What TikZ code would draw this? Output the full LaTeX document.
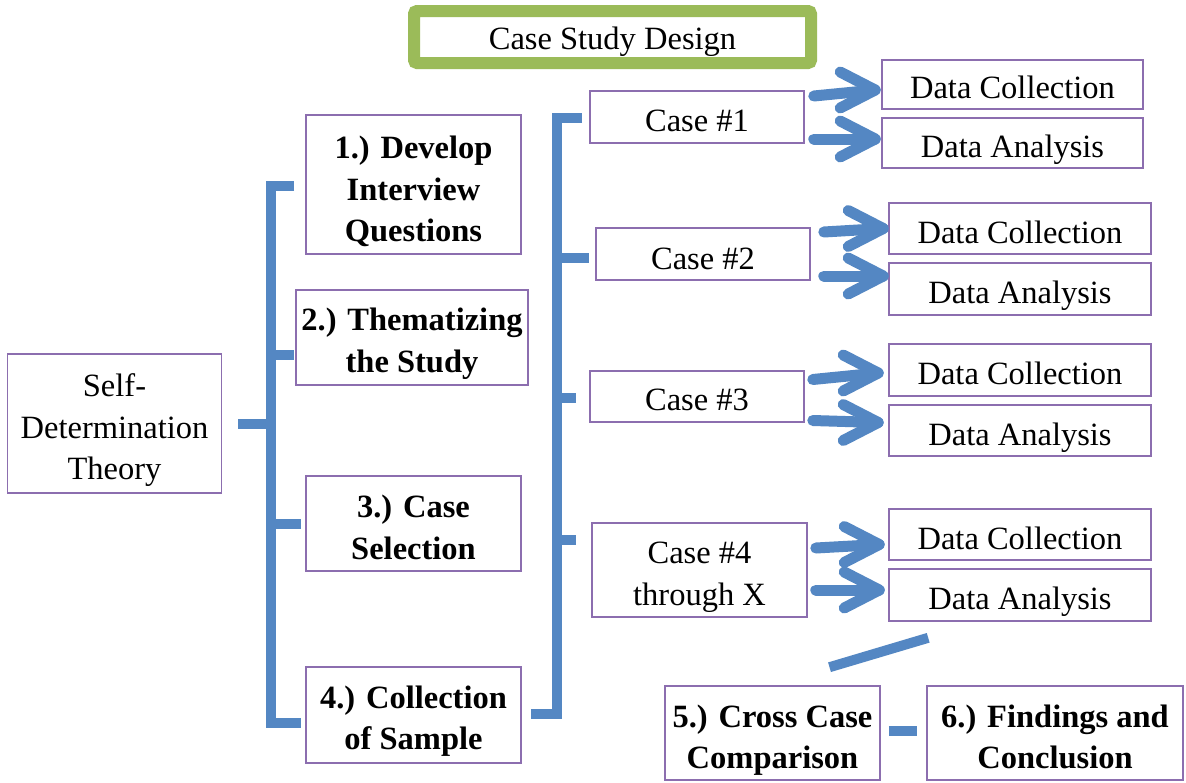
\documentclass[tikz,border=0pt]{standalone}
\usepackage{fontspec}
\setmainfont{Liberation Serif}
\usetikzlibrary{calc}
\definecolor{lineblue}{RGB}{84,135,195}
\definecolor{boxpurple}{RGB}{140,110,175}
\definecolor{titlegreen}{RGB}{155,187,89}
\tikzset{
  box/.style={draw=boxpurple, line width=1.6pt, fill=white, inner sep=0pt},
  txt/.style 2 args={label={[align=center, inner sep=0pt, yshift=-#1pt,
    font=\fontsize{32.5}{41.5}\selectfont]center:#2}},
  btxt/.style 2 args={label={[align=center, inner sep=0pt, yshift=-#1pt,
    font=\fontsize{32.5}{41.5}\selectfont\bfseries]center:#2}},
  conn/.style={draw=lineblue, line width=10pt, line cap=butt, line join=miter},
  chev/.style={draw=lineblue, line width=11pt, line cap=round, line join=round},
}
\newcommand\chevron[2]{%
  \draw[chev] (#1) -- (#2);
  \draw[chev] ($(#2)+(-35,-18)$) -- (#2) -- ($(#2)+(-35,18)$);}
\begin{document}
\begin{tikzpicture}[x=1pt,y=-1pt]
\useasboundingbox (0,0) rectangle (1186,782);
\fill[white] (0,0) rectangle (1186,782);

% title
\node[draw=titlegreen, line width=12pt, rounded corners=3pt, fill=white, minimum width=397pt, minimum height=52pt,
  inner sep=0pt, txt={5}{Case Study Design}] (title) at (612.5,37) {};

% left column
\node[box, minimum width=214pt, minimum height=139pt, txt={7}{Self-\\Determination\\Theory}] (self) at (114.5,423.5) {};
\node[box, minimum width=215pt, minimum height=139pt, btxt={7}{1.) Develop\\Interview\\Questions}] (b1) at (413.5,184.5) {};
\node[box, minimum width=232pt, minimum height=95pt, btxt={6}{2.) Thematizing\\the Study}] (b2) at (412,337.5) {};
\node[box, minimum width=215pt, minimum height=95pt, btxt={4}{3.) Case\\Selection}] (b3) at (413.5,523.5) {};
\node[box, minimum width=215pt, minimum height=96pt, btxt={6}{4.) Collection\\of Sample}] (b4) at (413.5,715) {};

% cases
\node[box, minimum width=214pt, minimum height=52pt, txt={4}{Case \#1}] (c1) at (697,117) {};
\node[box, minimum width=214pt, minimum height=52pt, txt={5}{Case \#2}] (c2) at (703,254) {};
\node[box, minimum width=214pt, minimum height=51pt, txt={3}{Case \#3}] (c3) at (697,396.5) {};
\node[box, minimum width=215pt, minimum height=94pt, txt={7}{Case \#4\\through X}] (c4) at (699.5,570) {};

% data boxes
\node[box, minimum width=261pt, minimum height=49pt, txt={3}{Data Collection}] (dc1) at (1012.5,84.5) {};
\node[box, minimum width=261pt, minimum height=50pt, txt={7}{Data Analysis}] (da1) at (1012.5,143) {};
\node[box, minimum width=262pt, minimum height=51pt, txt={4}{Data Collection}] (dc2) at (1020,228.5) {};
\node[box, minimum width=262pt, minimum height=52pt, txt={7}{Data Analysis}] (da2) at (1020,289) {};
\node[box, minimum width=262pt, minimum height=52pt, txt={3}{Data Collection}] (dc3) at (1020,370) {};
\node[box, minimum width=262pt, minimum height=51pt, txt={7}{Data Analysis}] (da3) at (1020,430.5) {};
\node[box, minimum width=262pt, minimum height=51pt, txt={4}{Data Collection}] (dc4) at (1020,534.5) {};
\node[box, minimum width=262pt, minimum height=52pt, txt={7}{Data Analysis}] (da4) at (1020,595) {};

% bottom boxes
\node[box, minimum width=215pt, minimum height=94pt, btxt={7}{5.) Cross Case\\Comparison}] (b5) at (772.5,733) {};
\node[box, minimum width=256pt, minimum height=94pt, btxt={4}{6.) Findings and\\Conclusion}] (b6) at (1055,733) {};

% left bracket
\coordinate (L) at (271,0);
\draw[conn] ([xshift=16pt]self.east) -- (self.east -| L);
\draw[conn] ([xshift=-11pt,yshift=-1.5pt]b1.west) -- ([yshift=-1.5pt]b1.west -| L)
  -- ([yshift=-8pt]b4.west -| L) -- ([xshift=-4pt,yshift=-8pt]b4.west);
\draw[conn] ([yshift=-17.5pt]b2.west -| L) -- ([xshift=-1pt,yshift=-17.5pt]b2.west);
\draw[conn] (b3.west -| L) -- ([xshift=-4pt]b3.west);

% right bracket
\coordinate (R) at (557,0);
\draw[conn] ([xshift=-7pt,yshift=-1pt]c1.west) -- ([yshift=-1pt]c1.west -| R)
  -- ([yshift=1pt]b4.east -| R) -- ([xshift=9pt,yshift=1pt]b4.east);
\draw[conn] ([yshift=-4pt]c2.west -| R) -- ([xshift=-6pt,yshift=-4pt]c2.west);
\draw[conn] ([yshift=-1.5pt]c3.west -| R) -- ([xshift=-13pt,yshift=-1.5pt]c3.west);
\draw[conn] ([yshift=30pt]c4.west -| R) -- ([xshift=-15pt,yshift=30pt]c4.west);

% chevron arrows
\coordinate (a1s) at ($(c1.east)+(9,-21)$);  \coordinate (a1t) at ($(dc1.west)+(-6,5.5)$);
\coordinate (a2s) at ($(c1.east)+(9,22)$);   \coordinate (a2t) at ($(da1.west)+(-6,-4)$);
\coordinate (a3s) at ($(c2.east)+(13,-22)$); \coordinate (a3t) at ($(dc2.west)+(-5,0)$);
\coordinate (a4s) at ($(c2.east)+(13,22)$);  \coordinate (a4t) at ($(da2.west)+(-5,-13)$);
\coordinate (a5s) at ($(c3.east)+(8,-17)$);  \coordinate (a5t) at ($(dc3.west)+(-10,3)$);
\coordinate (a6s) at ($(c3.east)+(8,24)$);   \coordinate (a6t) at ($(da3.west)+(-10,-8)$);
\coordinate (a7s) at ($(c4.east)+(8,-22)$);  \coordinate (a7t) at ($(dc4.west)+(-9,10)$);
\coordinate (a8s) at ($(c4.east)+(8,20)$);   \coordinate (a8t) at ($(da4.west)+(-9,-5)$);
\chevron{a1s}{a1t}
\chevron{a2s}{a2t}
\chevron{a3s}{a3t}
\chevron{a4s}{a4t}
\chevron{a5s}{a5t}
\chevron{a6s}{a6t}
\chevron{a7s}{a7t}
\chevron{a8s}{a8t}

% diagonal and dash
\coordinate (dgA) at ($(da4.south west)+(40,16)$);
\coordinate (dgB) at ($(b5.north)+(57,-18)$);
\draw[conn] (dgA) -- (dgB);
\draw[conn] ([xshift=8pt,yshift=2pt]b5.east) -- ([xshift=-9pt,yshift=2pt]b6.west);
\end{tikzpicture}
\end{document}
